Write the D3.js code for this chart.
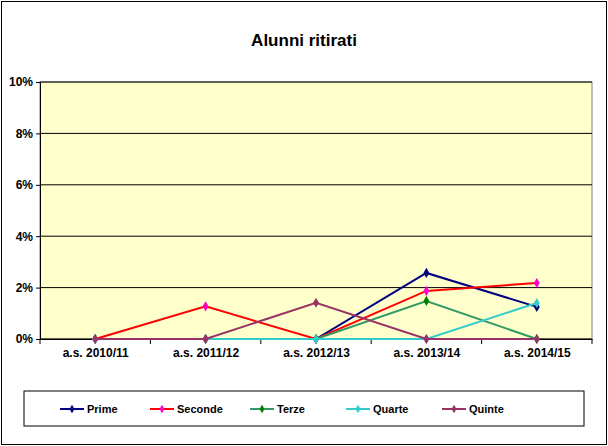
<!DOCTYPE html><html><head><meta charset="utf-8"><script src="https://cdn.jsdelivr.net/npm/d3@7"></script>
<style>body{margin:0;background:#fff}text{font-family:Arial,"Liberation Sans",sans-serif}</style></head><body><svg id="c" width="608" height="446"></svg><script>
const categories=["a.s. 2010/11","a.s. 2011/12","a.s. 2012/13","a.s. 2013/14","a.s. 2014/15"];
const seriesNames=["Prime","Seconde","Terze","Quarte","Quinte"];
const prime=[0,0,0,2.57,1.25];
const seconde=[0,1.27,0,1.87,2.18];
const terze=[0,0,0,1.48,0];
const quarte=[0,0,0,0,1.4];
const quinte=[0,0,1.41,0,0];
const yTicks=[0,2,4,6,8,10];
const lineColors=["#000080","#FF0000","#339966","#33CCCC","#993366"];
const markerColors=["#000080","#FF00CC","#008000","#33CCCC","#993366"];
const data=[prime,seconde,terze,quarte,quinte];
const svg=d3.select("#c");
svg.append("rect").attr("x",1.5).attr("y",1.5).attr("width",605).attr("height",443).attr("fill","#fff").attr("stroke","#000");
svg.append("text").attr("x",304).attr("y",46).attr("text-anchor","middle").attr("font-size",17).attr("font-weight","bold").text("Alunni ritirati");
const L=40,R=592,T=82,B=339;
const x=d3.scalePoint().domain(categories).range([L,R]).padding(0.5);
const y=d3.scaleLinear().domain([0,10]).range([B,T]);
svg.append("rect").attr("x",L).attr("y",T).attr("width",R-L).attr("height",B-T).attr("fill","#FFFFCC").attr("stroke","#808080");
yTicks.forEach(t=>{svg.append("line").attr("x1",L).attr("x2",R).attr("y1",y(t)).attr("y2",y(t)).attr("stroke","#000");});
const ya=svg.append("g").attr("transform",`translate(${L},0)`).call(d3.axisLeft(y).tickValues(yTicks).tickFormat(d=>d+"%").tickSize(4));
ya.selectAll("text").attr("font-size",12).attr("font-weight","bold").attr("font-family","Arial");
ya.select(".domain").attr("stroke","#000");
const xa=svg.append("g").attr("transform",`translate(0,${B})`).call(d3.axisBottom(x).tickSize(0).tickPadding(9));
xa.selectAll("text").attr("font-size",12).attr("font-weight","bold").attr("font-family","Arial");
xa.select(".domain").attr("stroke","#000");
const step=x.step();
categories.forEach((c,i)=>{const xx=x(c)-step/2;svg.append("line").attr("x1",xx).attr("x2",xx).attr("y1",B).attr("y2",B+5).attr("stroke","#000");});
svg.append("line").attr("x1",R).attr("x2",R).attr("y1",B).attr("y2",B+5).attr("stroke","#000");
const line=d3.line().x((d,i)=>x(categories[i])).y(d=>y(d));
data.forEach((s,k)=>{
 svg.append("path").attr("d",line(s)).attr("fill","none").attr("stroke",lineColors[k]).attr("stroke-width",2);
 s.forEach((v,i)=>svg.append("path").attr("d",d3.symbol(d3.symbolDiamond,30)()).attr("transform",`translate(${x(categories[i])},${y(v)})`).attr("fill",markerColors[k]));
});
svg.append("rect").attr("x",24).attr("y",391).attr("width",560).attr("height",35).attr("fill","#fff").attr("stroke","#000");
const lx=[60,150,250,346,442];
seriesNames.forEach((n,k)=>{
 svg.append("line").attr("x1",lx[k]).attr("x2",lx[k]+24).attr("y1",409).attr("y2",409).attr("stroke",lineColors[k]).attr("stroke-width",2);
 svg.append("path").attr("d",d3.symbol(d3.symbolDiamond,22)()).attr("transform",`translate(${lx[k]+12},409)`).attr("fill",markerColors[k]);
 svg.append("text").attr("x",lx[k]+27).attr("y",413).attr("font-size",11).attr("font-weight","bold").text(n);
});
</script></body></html>
